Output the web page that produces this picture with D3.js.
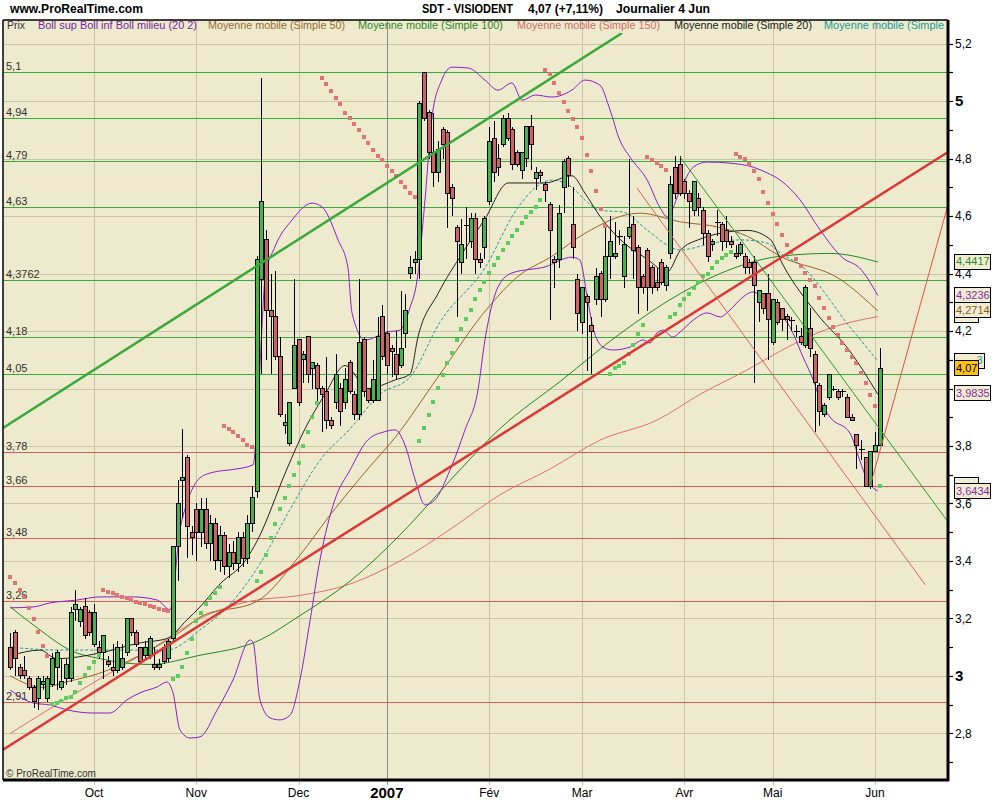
<!DOCTYPE html>
<html><head><meta charset="utf-8">
<script src="https://cdn.jsdelivr.net/npm/d3@7"></script>
<style>
body{margin:0;background:#fff;}
svg{display:block;font-family:"Liberation Sans",Arial,sans-serif;}
</style></head>
<body><svg id="c" width="1000" height="800"></svg>
<script>
// ---------------- DATA ----------------
const opens = [
3.10,3.15,3.03,3.02,2.99,2.96,2.92,2.97,2.92,2.97,
3.03,2.96,2.99,2.99,3.23,3.19,3.24,3.22,3.11,3.10,
3.08,3.05,3.03,3.02,3.03,3.08,3.20,3.15,3.10,3.07,
3.07,3.04,3.03,3.10,3.06,3.13,3.45,3.68,3.76,3.50,
3.58,3.50,3.58,3.46,3.53,3.40,3.49,3.38,3.43,3.39,
3.48,3.41,3.53,3.64,4.38,4.52,4.27,4.25,4.11,3.87,
3.81,4.00,4.17,4.10,4.18,4.07,4.08,4.00,3.99,3.89,
3.95,4.00,3.95,4.09,3.98,3.91,4.17,4.00,3.96,3.96,
4.25,4.19,4.14,4.12,4.08,4.19,4.40,4.44,4.45,5.10,
4.96,4.82,4.75,4.90,4.89,4.70,4.56,4.44,4.57,4.51,
4.59,4.45,4.49,4.65,4.87,4.80,4.85,4.94,4.90,4.82,
4.76,4.80,4.91,4.73,4.75,4.71,4.64,4.45,4.45,4.70,
4.80,4.57,4.38,4.23,4.32,4.22,4.31,4.40,4.31,4.46,
4.46,4.53,4.39,4.53,4.57,4.49,4.39,4.48,4.42,4.37,
4.44,4.36,4.47,4.77,4.78,4.72,4.68,4.62,4.66,4.62,
4.54,4.50,4.58,4.57,4.55,4.51,4.47,4.47,4.46,4.44,
4.44,4.30,4.33,4.33,4.16,4.30,4.28,4.25,4.24,4.20,
4.18,4.15,4.21,4.12,4.01,3.91,3.97,4.00,3.99,3.99,
3.97,3.90,3.84,3.79,3.76,3.66,3.78,3.80];
const highs = [
3.15,3.16,3.04,3.07,3.00,2.97,3.00,3.00,3.00,3.08,
3.09,3.06,3.06,3.24,3.30,3.24,3.27,3.23,3.25,3.12,
3.14,3.07,3.11,3.12,3.11,3.20,3.20,3.16,3.10,3.12,
3.14,3.10,3.06,3.11,3.13,3.45,3.68,3.86,3.77,3.52,
3.60,3.62,3.62,3.56,3.55,3.52,3.50,3.46,3.47,3.50,
3.50,3.56,3.66,4.46,5.08,4.55,4.40,4.41,4.18,3.91,
3.95,4.38,4.17,4.13,4.18,4.09,4.09,4.01,4.11,3.90,
4.12,4.02,4.07,4.10,3.99,4.38,4.18,4.00,4.10,4.25,
4.29,4.20,4.15,4.20,4.34,4.33,4.46,4.48,5.00,5.10,
4.97,4.96,4.86,4.91,4.90,4.71,4.57,4.59,4.63,4.61,
4.61,4.47,4.60,4.91,4.93,4.85,4.95,4.96,4.91,4.83,
4.82,4.91,4.95,4.77,4.76,4.72,4.65,4.46,4.64,4.80,
4.81,4.70,4.40,4.35,4.33,4.25,4.42,4.41,4.56,4.60,
4.58,4.55,4.53,4.80,4.60,4.50,4.40,4.49,4.43,4.42,
4.45,4.43,4.74,4.81,4.81,4.73,4.69,4.72,4.68,4.63,
4.55,4.52,4.62,4.58,4.60,4.53,4.50,4.51,4.47,4.45,
4.46,4.34,4.33,4.40,4.31,4.31,4.28,4.26,4.25,4.22,
4.21,4.36,4.28,4.13,4.02,3.95,4.05,4.01,4.00,4.00,
3.98,3.91,3.84,3.82,3.76,3.78,3.85,4.14];
const lows = [
3.02,3.00,2.99,2.99,2.95,2.89,2.88,2.95,2.91,2.96,
2.95,2.95,2.97,2.98,3.19,3.17,3.13,3.14,3.10,3.06,
2.99,3.03,3.00,3.01,3.02,3.07,3.14,3.10,3.04,3.06,
3.06,3.02,3.02,3.04,3.05,3.12,3.33,3.55,3.41,3.42,
3.40,3.45,3.44,3.40,3.37,3.36,3.35,3.34,3.37,3.36,
3.38,3.39,3.50,3.62,4.05,4.10,4.05,4.10,3.90,3.84,
3.80,4.00,3.94,4.02,4.02,4.00,3.95,3.85,3.86,3.86,
3.93,3.87,3.93,3.98,3.89,3.89,3.97,3.95,3.95,3.96,
4.10,4.05,4.04,4.03,4.07,4.14,4.38,4.40,4.38,4.93,
4.80,4.70,4.72,4.80,4.56,4.60,4.25,4.40,4.45,4.49,
4.40,4.42,4.45,4.64,4.72,4.74,4.84,4.86,4.76,4.77,
4.73,4.77,4.76,4.69,4.72,4.65,4.24,4.35,4.42,4.61,
4.70,4.45,4.20,4.19,4.06,4.05,4.29,4.25,4.30,4.38,
4.45,4.50,4.35,4.52,4.38,4.26,4.33,4.27,4.33,4.34,
4.36,4.34,4.45,4.66,4.67,4.66,4.56,4.60,4.60,4.50,
4.44,4.48,4.53,4.48,4.49,4.49,4.45,4.46,4.40,4.40,
4.02,4.23,4.26,4.10,4.15,4.22,4.20,4.17,4.20,4.18,
4.15,4.14,4.11,3.85,3.87,3.90,3.96,3.99,3.96,3.97,
3.90,3.89,3.72,3.75,3.66,3.65,3.78,3.80];
const closes = [
3.03,3.06,3.00,3.00,2.96,2.91,2.99,2.98,2.99,3.06,
3.08,2.98,3.04,3.22,3.25,3.23,3.14,3.15,3.22,3.08,
3.14,3.04,3.02,3.10,3.06,3.20,3.15,3.11,3.05,3.10,
3.13,3.03,3.04,3.05,3.12,3.45,3.60,3.69,3.52,3.48,
3.50,3.58,3.46,3.53,3.40,3.49,3.38,3.43,3.39,3.48,
3.41,3.53,3.62,4.45,4.65,4.27,4.25,4.11,3.91,3.88,
3.95,4.15,3.95,4.12,4.05,4.09,4.00,3.98,3.89,3.87,
4.05,3.92,4.03,3.99,3.91,4.16,3.99,3.96,4.03,4.18,
4.11,4.08,4.13,4.05,4.14,4.27,4.42,4.45,4.99,4.94,
4.82,4.75,4.83,4.85,4.68,4.66,4.51,4.50,4.57,4.59,
4.45,4.44,4.59,4.86,4.75,4.77,4.94,4.87,4.78,4.78,
4.82,4.91,4.85,4.75,4.74,4.69,4.55,4.44,4.61,4.79,
4.74,4.49,4.26,4.35,4.30,4.20,4.39,4.31,4.46,4.51,
4.47,4.53,4.50,4.56,4.48,4.35,4.35,4.35,4.35,4.35,
4.37,4.42,4.71,4.68,4.68,4.68,4.65,4.72,4.63,4.54,
4.46,4.51,4.58,4.51,4.51,4.50,4.46,4.50,4.42,4.42,
4.36,4.34,4.28,4.24,4.31,4.23,4.24,4.24,4.24,4.20,
4.16,4.35,4.14,4.02,3.92,3.94,4.05,4.00,3.97,3.99,
3.90,3.89,3.80,3.79,3.66,3.78,3.80,4.07];

// month ticks (trading-day index)
const monthIdx = [18,40,62,81,103,123,145,164,186];
const monthLbl = ['Oct','Nov','Dec','2007','Fév','Mar','Avr','Mai','Jun'];
// right-axis labelled ticks (4 is hidden behind the value tags in the reference)
const axisTicks = [2.8,3.0,3.2,3.4,3.6,3.8,4.2,4.4,4.6,4.8,5.0,5.2];
const gridTicks = [2.8,3.0,3.2,3.4,3.6,3.8,4.0,4.2,4.4,4.6,4.8,5.0,5.2];

// indicator lines, [index, value]
const sma150 = [[0,2.80],[4.9,2.85],[19.3,2.99],[30,3.09],[40.8,3.20],[51.6,3.26],[62.3,3.28],[73.1,3.32],[83.8,3.40],[94.6,3.51],[105.3,3.63],[116.1,3.72],[126.8,3.82],[139.1,3.89],[148.4,3.98],[159.1,4.07],[165.6,4.13],[176.3,4.21],[186.6,4.25]];
const sma100 = [[0,3.24],[6.4,3.16],[12.8,3.09],[19.3,3.06],[30,3.04],[40.2,3.07],[53.7,3.125],[62.3,3.21],[73.1,3.33],[83.8,3.49],[94.6,3.68],[105.3,3.86],[118.7,4.03],[131.1,4.19],[144.1,4.33],[152.7,4.40],[165.6,4.46],[176.3,4.47],[186.6,4.44]];
const sma50 = [[0,3.00],[7,2.96],[12.2,2.98],[19.3,3.01],[26.4,3.06],[38,3.17],[40.8,3.205],[53.1,3.26],[62.3,3.42],[68.8,3.56],[76.9,3.72],[82.8,3.83],[92,4.04],[102.7,4.28],[109.2,4.39],[116.5,4.46],[123.6,4.54],[135.4,4.61],[144.1,4.58],[152.7,4.56],[158.5,4.53],[165.6,4.46],[178.5,4.38],[186.6,4.27]];
const sma20 = [[0,3.07],[6.4,3.09],[10,3.06],[19.3,3.08],[27.9,3.115],[33.7,3.13],[38,3.195],[40.8,3.24],[45.1,3.32],[50.5,3.40],[53.1,3.47],[59.5,3.72],[63.4,3.86],[67.7,3.98],[72,4.08],[76.9,4.00],[82.8,4.03],[86,4.05],[87.7,4.18],[92,4.33],[97.2,4.47],[102.1,4.59],[107.1,4.715],[115,4.715],[120.8,4.74],[123.6,4.68],[126.8,4.60],[131.1,4.52],[137,4.45],[141.3,4.405],[144.1,4.48],[148.4,4.52],[152.7,4.54],[158.5,4.55],[163.4,4.52],[166.2,4.43],[173.5,4.26],[180.6,4.13],[186.6,3.98]];
const maTeal = [[0,3.10],[10.7,3.09],[23.6,3.09],[33.7,3.09],[40.8,3.16],[47.3,3.25],[53.7,3.39],[60.2,3.58],[66.6,3.75],[73.1,3.86],[79.5,3.98],[86,4.04],[92.4,4.23],[102.1,4.42],[109.2,4.63],[114.4,4.715],[116.5,4.725],[120.8,4.70],[123.6,4.656],[126.8,4.62],[131.8,4.614],[137,4.551],[144.1,4.482],[151.1,4.506],[156.9,4.517],[162.8,4.506],[165.6,4.471],[169.9,4.43],[180.6,4.214],[186.6,4.096]];
const bollUp = [[0,3.237],[4.9,3.24],[8.5,3.254],[14.3,3.264],[19.3,3.275],[26.4,3.275],[31.6,3.264],[34.4,3.23],[36.5,3.508],[38,3.602],[40.8,3.689],[44,3.71],[47.3,3.717],[52.2,3.734],[53.1,3.89],[54.1,4.203],[54.8,4.388],[56.9,4.492],[60.6,4.586],[64.9,4.645],[67.1,4.631],[70.5,4.517],[72.6,4.423],[73.5,4.263],[76.3,4.169],[81.2,4.197],[83.8,4.203],[86,4.283],[87.5,4.377],[89.2,4.656],[90.7,4.944],[92.8,5.073],[95,5.118],[98.5,5.115],[102.1,5.073],[104.9,5.038],[107.9,5.063],[110.1,5.003],[112.9,5.021],[116.5,5.014],[120.8,5.038],[123.6,5.073],[126.8,5.056],[129,4.969],[131.1,4.864],[133.3,4.805],[137,4.725],[139.7,4.631],[141.3,4.597],[144.1,4.69],[146.9,4.77],[149.9,4.788],[154.8,4.784],[159.8,4.77],[162.8,4.75],[165.6,4.725],[169.9,4.656],[174.2,4.551],[179.1,4.454],[182.7,4.419],[186.6,4.3236]];
const bollLow = [[0,2.951],[4.9,2.906],[8.5,2.899],[12.2,2.882],[17.8,2.871],[21.4,2.871],[25.1,2.917],[27.9,2.941],[31.6,2.962],[33.7,2.979],[35,2.941],[36.5,2.812],[38.7,2.784],[40.8,2.788],[44.5,2.882],[47.9,2.986],[51.6,3.125],[52.2,3.118],[53.7,2.917],[55.9,2.854],[58,2.847],[60.2,2.864],[62.3,2.986],[64.5,3.195],[66.6,3.403],[69.8,3.612],[73.1,3.717],[76.9,3.821],[80.6,3.85],[82.8,3.856],[84.9,3.803],[87.1,3.682],[89.2,3.595],[91.3,3.612],[94.6,3.717],[97.8,3.856],[100.6,3.995],[102.1,4.169],[103.6,4.29],[104.9,4.353],[107.9,4.402],[115,4.423],[120.8,4.457],[122.5,4.447],[124.1,4.318],[125.3,4.214],[127.5,4.144],[129.6,4.134],[133.3,4.144],[136.1,4.169],[137.6,4.158],[139.1,4.193],[140.4,4.203],[142.5,4.179],[144.1,4.197],[146.9,4.238],[149.9,4.263],[152.7,4.249],[154.8,4.273],[156.9,4.308],[159.8,4.336],[163.4,4.283],[167.7,4.214],[170.5,4.11],[172.7,4.03],[174.2,3.96],[176.3,3.901],[180.6,3.845],[182.7,3.751],[184.3,3.682],[186.6,3.6434]];

// parabolic SAR segments: start index, side (r = above, g = below), values
const sarStart = [0,9,20,35,46,53,67,88,115,129,137,142,156,187];
const sarSide  = ['r','g','r','g','r','g','r','g','r','g','r','g','r','g'];
const sarVals = [
 [3.344,3.323,3.299,3.275,3.237,3.198,3.153,3.104,3.070],
 [2.903,2.906,2.913,2.923,2.927,2.944,2.976,3.003,3.028,3.049,3.073],
 [3.299,3.292,3.289,3.282,3.275,3.271,3.264,3.257,3.254,3.250,3.243,3.240,3.233,3.230,3.226],
 [2.99,3.00,3.03,3.08,3.13,3.19,3.22,3.25,3.27,3.29,3.31],
 [3.87,3.86,3.85,3.835,3.82,3.805,3.795],
 [3.33,3.36,3.42,3.48,3.53,3.58,3.62,3.66,3.70,3.74,3.80,3.85,3.90,3.95],
 [5.08,5.06,5.035,5.01,4.99,4.96,4.94,4.92,4.90,4.875,4.855,4.83,4.81,4.795,4.775,4.755,4.74,4.72,4.70,4.68,4.665],
 [3.817,3.863,3.908,3.953,4.002,4.047,4.089,4.123,4.169,4.207,4.242,4.273,4.311,4.343,4.370,4.402,4.430,4.454,4.482,4.506,4.530,4.551,4.576,4.597,4.614,4.630,4.656],
 [5.108,5.094,5.063,5.028,4.997,4.965,4.937,4.910,4.871,4.812,4.757,4.687,4.624,4.565],
 [4.05,4.07,4.08,4.09,4.12,4.15,4.19,4.22],
 [4.805,4.795,4.785,4.775,4.76],
 [4.25,4.26,4.29,4.31,4.33,4.35,4.37,4.39,4.40,4.42,4.44,4.455,4.465,4.475],
 [4.816,4.805,4.798,4.781,4.757,4.729,4.683,4.645,4.607,4.572,4.534,4.499,4.475,4.450,4.426,4.402,4.377,4.357,4.315,4.280,4.245,4.214,4.186,4.158,4.134,4.110,4.089,4.054,4.019,3.977,3.939],
 [3.66]
];

// support / resistance levels
const greenLevels = [5.1,4.94,4.79,4.63,4.3762,4.18,4.05];
const redLevels = [3.78,3.66,3.48,3.26,2.91];

// trend lines [i1,v1,i2,v2]
const thickGreen = [-1.57,3.863,131.6,5.237];
const thickRed = [-1.57,2.743,201.7,4.823];
const thinRedDown = [134.8,4.697,196.8,3.317];
const thinGreenDown = [144.1,4.805,201.7,3.536];
const thinRedUp = [184.9,3.657,201.5,4.628];

// right value tags (drawing order; partly hidden ones first)
const tagVals  = [4.257,3.664,4.0963,4.4417,4.3236,4.2714,4.07,3.9835,3.6434];
const tagText  = ['','','3','4,4417','4,3236','4,2714','4,07','3,9835','3,6434'];
const tagColor = ['#d06a6a','#3a9a3a','#1a9a9a','#2a8a2a','#8a2aa8','#8a5a20','#000','#8a2aa8','#8a2aa8'];
const tagW     = [24,24,30,36,36,36,24,36,36];

// ---------------- CHART ----------------
const svg = d3.select('#c');
const L=3, R=948, T=20, B=780, TOP=33;
const x = d3.scaleLinear().domain([-1.57,201.7]).range([L,R]);
const y = d3.scaleLinear().domain([2.638,5.282]).range([B,T]);
const fmt = v => String(v).replace('.',',');

svg.append('rect').attr('x',L).attr('y',T).attr('width',R-L).attr('height',B-T).attr('fill','#eeeacd');

svg.append('defs').append('clipPath').attr('id','clip')
  .append('rect').attr('x',L).attr('y',TOP).attr('width',R-L).attr('height',B-TOP);

// grid
const grid = svg.append('g').attr('shape-rendering','crispEdges');
gridTicks.forEach(v=>{
  grid.append('line').attr('x1',L).attr('x2',R).attr('y1',Math.round(y(v))+0.5).attr('y2',Math.round(y(v))+0.5)
    .attr('stroke','#cbc4a5').attr('stroke-width',1);
});
monthIdx.forEach((m,k)=>{
  const xx=Math.round(x(m))+0.5;
  grid.append('line').attr('x1',xx).attr('x2',xx).attr('y1',T).attr('y2',B+5)
    .attr('stroke', monthLbl[k]==='2007' ? '#8e8e86' : '#cbc4a5').attr('stroke-width',1);
});

// support levels
const lv = svg.append('g').attr('shape-rendering','crispEdges');
greenLevels.forEach(v=>{
  const yy=Math.round(y(v))+0.5;
  lv.append('line').attr('x1',L).attr('x2',R).attr('y1',yy).attr('y2',yy).attr('stroke','#3aab3a');
  lv.append('text').attr('x',6).attr('y',yy-3).attr('font-size',11).attr('fill','#333').text(fmt(v));
});
redLevels.forEach(v=>{
  const yy=Math.round(y(v))+0.5;
  lv.append('line').attr('x1',L).attr('x2',R).attr('y1',yy).attr('y2',yy).attr('stroke','#d45c5c');
  lv.append('text').attr('x',6).attr('y',yy-3).attr('font-size',11).attr('fill','#333').text(fmt(v));
});

const plot = svg.append('g').attr('clip-path','url(#clip)');
const line = d3.line().x(d=>x(d[0])).y(d=>y(d[1])).curve(d3.curveMonotoneX);
function ind(data,color,w,dash){
  plot.append('path').attr('d',line(data)).attr('fill','none').attr('stroke',color)
    .attr('stroke-width',w).attr('stroke-dasharray',dash||null);
}
ind(sma150,'#e07070',1);
ind(sma100,'#1f8a1f',1);
ind(sma50,'#9a6424',1);
ind(maTeal,'#1a9a9a',1,'3,2');
ind(sma20,'#222',1);
ind(bollUp,'#8a1fc8',1);
ind(bollLow,'#8a1fc8',1);

// candles
const cg = plot.append('g').attr('shape-rendering','crispEdges');
closes.forEach((c,i)=>{
  const xx = Math.round(x(i))+0.5;
  const o = opens[i];
  cg.append('line').attr('x1',xx).attr('x2',xx).attr('y1',y(highs[i])).attr('y2',y(lows[i])).attr('stroke','#000');
  if (Math.abs(c-o) < 0.005) {
    cg.append('line').attr('x1',xx-3).attr('x2',xx+3).attr('y1',Math.round(y(c))+0.5).attr('y2',Math.round(y(c))+0.5).attr('stroke','#000');
  } else {
    const top=y(Math.max(o,c)), bot=y(Math.min(o,c));
    cg.append('rect').attr('x',xx-2).attr('y',top).attr('width',4).attr('height',Math.max(1,bot-top))
      .attr('fill', c>o ? '#47b347' : '#cc6262').attr('stroke','#000').attr('stroke-width',1);
  }
});

// SAR
const sg = plot.append('g').attr('shape-rendering','crispEdges');
sarVals.forEach((seg,k)=>{
  seg.forEach((v,j)=>{
    const i=sarStart[k]+j;
    sg.append('rect').attr('x',x(i)-2).attr('y',y(v)-2).attr('width',4).attr('height',4)
      .attr('fill', sarSide[k]==='g' ? '#5ccc5c' : '#e07474');
  });
});

// trend lines
function tl(a,color,w){
  plot.append('line').attr('x1',x(a[0])).attr('y1',y(a[1])).attr('x2',x(a[2])).attr('y2',y(a[3]))
    .attr('stroke',color).attr('stroke-width',w);
}
tl(thickGreen,'#3aa83a',2.5);
tl(thickRed,'#dd3838',2.5);
tl(thinRedDown,'#e06060',1);
tl(thinGreenDown,'#2a9a2a',1);
tl(thinRedUp,'#e05050',1);

// frame
svg.append('line').attr('x1',L).attr('x2',R).attr('y1',T).attr('y2',T).attr('stroke','#000').attr('stroke-width',1.5);
svg.append('line').attr('x1',L).attr('x2',L).attr('y1',T).attr('y2',B).attr('stroke','#000').attr('stroke-width',1.5);
svg.append('line').attr('x1',L).attr('x2',R+1).attr('y1',B).attr('y2',B).attr('stroke','#000').attr('stroke-width',3);
svg.append('line').attr('x1',R).attr('x2',R).attr('y1',T).attr('y2',B+1).attr('stroke','#000').attr('stroke-width',3);

// right axis ticks & labels
const ax = svg.append('g');
d3.range(27,53).forEach(k=>{
  const v=k/10, yy=Math.round(y(v))+0.5;
  ax.append('line').attr('x1',R).attr('x2',R+5).attr('y1',yy).attr('y2',yy).attr('stroke','#000').attr('stroke-width',1.2);
});
axisTicks.forEach(v=>{
  const isInt = Math.abs(v-Math.round(v))<1e-9;
  ax.append('text').attr('x',R+7).attr('y',y(v)).attr('dy','0.36em')
    .attr('font-size', isInt?15:12).attr('font-weight', isInt?'bold':'normal')
    .attr('fill','#000').text(isInt? String(Math.round(v)) : fmt(v.toFixed(1)));
});

// bottom axis
monthIdx.forEach((m,k)=>{
  const is07 = monthLbl[k]==='2007';
  svg.append('text').attr('x',x(m)).attr('y',is07?798:797).attr('text-anchor','middle')
    .attr('font-family','"Liberation Sans Narrow","Arial Narrow","Liberation Sans",sans-serif')
    .attr('font-stretch','condensed')
    .attr('font-size',is07?15:12).attr('font-weight',is07?'bold':'normal').attr('fill','#000').text(monthLbl[k]);
});

// tags
tagVals.forEach((v,k)=>{
  const yy=y(v), w=tagW[k];
  const g=svg.append('g');
  g.append('rect').attr('x',954.5).attr('y',Math.round(yy-8)+0.5).attr('width',w).attr('height',15)
    .attr('fill', tagText[k]==='4,07' ? '#ffc20e' : '#f1edd3').attr('stroke','#000').attr('stroke-width',1);
  if(tagText[k]) {
    const t = g.append('text').attr('y',yy).attr('dy','0.33em').attr('font-size',11)
      .attr('fill',tagColor[k]).text(tagText[k]);
    if (tagText[k].length===1) t.attr('x',954.5+w-2).attr('text-anchor','end'); else t.attr('x',956);
  }
});

// title
svg.append('text').attr('x',10).attr('y',13).attr('font-size',13).attr('font-weight','bold')
  .attr('textLength',133).attr('lengthAdjust','spacingAndGlyphs').text('www.ProRealTime.com');
svg.append('text').attr('x',422).attr('y',13).attr('font-size',13).attr('font-weight','bold')
  .attr('textLength',91).attr('lengthAdjust','spacingAndGlyphs').text('SDT - VISIODENT');
svg.append('text').attr('x',528).attr('y',13).attr('font-size',13).attr('font-weight','bold')
  .attr('textLength',75).attr('lengthAdjust','spacingAndGlyphs').text('4,07 (+7,11%)');
svg.append('text').attr('x',616).attr('y',13).attr('font-size',13).attr('font-weight','bold')
  .attr('textLength',94).attr('lengthAdjust','spacingAndGlyphs').text('Journalier  4 Jun');

// legend strip
const legTxt = ['Prix','Boll sup Boll inf Boll milieu (20 2)','Moyenne mobile (Simple 50)','Moyenne mobile (Simple 100)','Moyenne mobile (Simple 150)','Moyenne mobile (Simple 20)','Moyenne mobile (Simple'];
const legX = [7,38,208,358,517,674,824];
const legW = [18,159,137,145,143,138,120];
const legC = ['#333','#7a1fa8','#9a6a30','#2a8a2a','#d06a6a','#222','#1a9a9a'];
legTxt.forEach((t,k)=>{
  svg.append('text').attr('x',legX[k]).attr('y',29).attr('font-size',11).attr('fill',legC[k])
    .attr('textLength',legW[k]).attr('lengthAdjust','spacingAndGlyphs').text(t);
});

svg.append('text').attr('x',6).attr('y',777).attr('font-size',10).attr('fill','#333')
  .attr('font-family','"Liberation Sans Narrow","Liberation Sans",sans-serif').text('© ProRealTime.com');
</script>
</body></html>
